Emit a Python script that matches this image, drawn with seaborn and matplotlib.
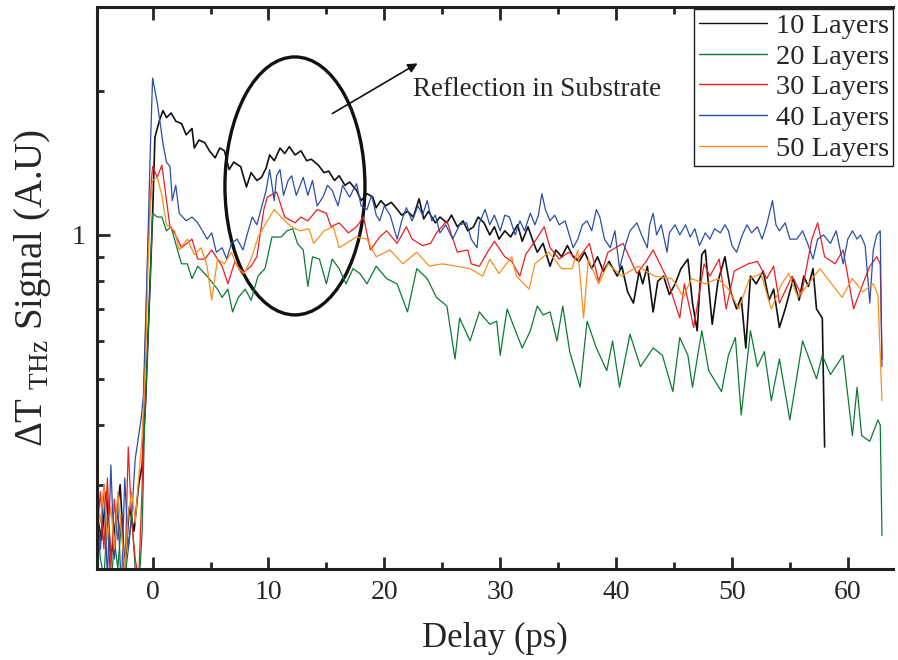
import numpy as np
import pandas as pd
import matplotlib
matplotlib.use("Agg")
import matplotlib.pyplot as plt
import matplotlib.ticker as mticker
from matplotlib.patches import Ellipse
import seaborn as sns

# valores (delay em ps, sinal em A.U.)
t_10 = [-4.8, -4.4, -4.0, -3.6, -3.2, -2.8, -2.4, -2.0, -1.6, -1.2, -0.9, -0.6, -0.3, 0.0, 0.2, 0.6, 0.9, 1.2, 1.6, 2.0,
        2.5, 2.9, 3.4, 3.6, 4.0, 4.5, 4.9, 5.4, 5.8, 6.2, 6.6, 7.0, 7.6, 8.1, 8.5, 9.0, 9.4, 9.8, 10.1, 10.5,
        11.0, 11.4, 11.8, 12.3, 12.8, 13.3, 13.7, 14.3, 14.8, 15.2, 15.7, 16.1, 16.6, 17.0, 17.6, 18.0, 18.5, 19.0, 19.3, 19.7,
        20.1, 20.6, 21.0, 21.5, 22.0, 22.5, 23.0, 23.4, 23.8, 24.4, 24.8, 25.4, 25.8, 26.3, 26.8, 27.2, 27.7, 28.1, 28.6, 29.1,
        29.5, 29.9, 30.4, 30.9, 31.5, 31.9, 32.4, 32.9, 33.2, 33.7, 34.3, 34.8, 35.3, 35.8, 36.3, 36.8, 37.3, 37.9, 38.4, 38.9,
        39.4, 40.1, 40.5, 41.0, 41.5, 42.0, 42.3, 42.7, 43.2, 43.6, 44.1, 44.6, 45.1, 45.6, 46.2, 46.6, 47.0, 47.4, 47.7, 48.3,
        48.8, 49.4, 49.9, 50.4, 50.8, 51.2, 51.6, 52.1, 52.7, 53.2, 53.6, 54.1, 54.6, 55.3, 55.8, 56.2, 56.6, 57.0, 57.3, 57.8,
        58.0]
v_10 = [0.26, 0.23, 0.29, 0.21, 0.25, 0.30, 0.20, 0.27, 0.24, 0.30, 0.33, 0.45, 0.70, 1.10, 1.60, 1.74, 1.82, 1.76, 1.80, 1.73,
        1.71, 1.62, 1.67, 1.52, 1.58, 1.56, 1.50, 1.45, 1.52, 1.50, 1.37, 1.42, 1.39, 1.26, 1.35, 1.30, 1.32, 1.38, 1.47, 1.43,
        1.52, 1.48, 1.53, 1.47, 1.50, 1.43, 1.44, 1.40, 1.35, 1.36, 1.30, 1.33, 1.27, 1.29, 1.24, 1.18, 1.22, 1.20, 1.14, 1.18,
        1.15, 1.17, 1.14, 1.10, 1.12, 1.09, 1.19, 1.08, 1.12, 1.06, 1.09, 1.06, 1.10, 1.04, 1.07, 1.02, 1.04, 1.09, 1.06, 1.00,
        1.04, 0.98, 1.02, 0.99, 1.05, 0.97, 1.04, 0.96, 0.92, 0.96, 0.86, 0.93, 0.90, 0.95, 0.90, 0.88, 0.92, 0.85, 0.90, 0.84,
        0.88, 0.82, 0.86, 0.76, 0.72, 0.84, 0.79, 0.86, 0.69, 0.80, 0.82, 0.75, 0.79, 0.85, 0.89, 0.72, 0.63, 0.91, 0.93, 0.65,
        0.80, 0.90, 0.76, 0.70, 0.74, 0.58, 0.82, 0.79, 0.84, 0.73, 0.77, 0.64, 0.70, 0.81, 0.73, 0.82, 0.78, 0.85, 0.70, 0.67,
        0.36]

t_20 = [-4.8, -4.5, -4.2, -3.9, -3.6, -3.3, -3.0, -2.7, -2.4, -2.1, -1.8, -1.5, -1.2, -0.9, -0.7, -0.3, 0.0, 0.4, 0.8, 1.2,
        1.6, 2.2, 2.5, 3.0, 3.4, 3.9, 4.7, 5.6, 6.0, 6.5, 6.9, 7.4, 8.0, 8.5, 9.1, 9.7, 10.3, 11.1, 11.6, 12.1,
        12.5, 13.0, 13.4, 13.8, 14.4, 15.0, 15.5, 16.1, 16.7, 17.3, 17.9, 18.5, 19.3, 20.2, 21.1, 22.0, 22.8, 23.7, 24.5, 25.4,
        26.1, 26.5, 27.4, 28.2, 29.1, 29.7, 30.0, 30.6, 31.1, 31.9, 32.6, 33.2, 33.7, 34.3, 34.9, 35.4, 36.0, 36.9, 37.5, 38.3,
        39.2, 39.7, 40.3, 41.2, 42.1, 43.2, 44.0, 44.9, 45.5, 46.2, 46.6, 47.4, 48.0, 49.1, 49.7, 50.3, 50.8, 51.6, 52.2, 52.8,
        53.4, 54.1, 55.0, 56.1, 57.3, 57.8, 58.5, 59.6, 60.4, 60.8, 61.2, 61.9, 62.6, 62.8, 62.95]
v_20 = [0.25, 0.21, 0.19, 0.26, 0.18, 0.23, 0.20, 0.25, 0.19, 0.22, 0.26, 0.20, 0.18, 0.24, 0.40, 0.70, 1.11, 1.09, 1.09, 1.02,
        1.04, 0.92, 0.87, 0.87, 0.81, 0.86, 0.82, 0.77, 0.74, 0.77, 0.69, 0.74, 0.77, 0.73, 0.82, 0.85, 0.99, 0.99, 1.02, 1.03,
        0.96, 0.93, 0.78, 0.90, 0.89, 0.79, 0.89, 0.85, 0.79, 0.85, 0.83, 0.79, 0.86, 0.81, 0.79, 0.69, 0.85, 0.81, 0.74, 0.71,
        0.55, 0.67, 0.60, 0.69, 0.65, 0.66, 0.56, 0.70, 0.65, 0.58, 0.63, 0.71, 0.68, 0.69, 0.60, 0.71, 0.57, 0.48, 0.66, 0.58,
        0.52, 0.60, 0.48, 0.62, 0.53, 0.58, 0.56, 0.47, 0.61, 0.56, 0.48, 0.63, 0.52, 0.47, 0.56, 0.61, 0.42, 0.63, 0.53, 0.57,
        0.45, 0.55, 0.41, 0.60, 0.50, 0.56, 0.51, 0.56, 0.38, 0.48, 0.38, 0.37, 0.41, 0.40, 0.235]

t_30 = [-4.8, -4.5, -4.2, -3.9, -3.6, -3.3, -3.0, -2.7, -2.4, -2.1, -1.8, -1.5, -1.2, -0.9, -0.7, -0.4, -0.1, 0.0, 0.4, 0.8,
        1.2, 1.5, 1.9, 2.5, 3.4, 3.9, 4.5, 5.1, 6.0, 6.5, 7.1, 7.7, 8.5, 9.0, 9.6, 9.9, 10.7, 11.4, 12.3, 12.8,
        13.4, 14.2, 15.0, 15.4, 16.1, 16.9, 17.6, 18.2, 18.8, 19.6, 20.2, 21.1, 21.9, 22.4, 23.3, 24.0, 24.5, 25.4, 26.3, 27.2,
        27.5, 28.2, 28.9, 29.5, 30.4, 31.0, 31.7, 32.2, 33.0, 33.8, 34.3, 35.1, 35.9, 36.7, 37.7, 38.5, 39.3, 40.6, 41.8, 42.6,
        43.2, 44.4, 45.5, 45.9, 46.7, 47.6, 48.1, 48.9, 49.5, 50.2, 51.4, 52.2, 53.0, 53.6, 54.1, 55.2, 56.0, 56.9, 57.4, 58.0,
        58.9, 59.6, 60.5, 61.3, 61.9, 62.5, 62.8, 62.95]
v_30 = [0.24, 0.29, 0.22, 0.31, 0.20, 0.28, 0.23, 0.26, 0.19, 0.36, 0.25, 0.21, 0.19, 0.30, 0.52, 0.95, 1.30, 1.39, 1.32, 1.40,
        1.18, 1.04, 1.01, 0.94, 0.98, 0.89, 0.89, 0.93, 0.86, 0.79, 0.88, 0.83, 0.86, 0.90, 1.13, 1.20, 1.23, 1.09, 1.06, 1.09,
        1.07, 1.13, 1.11, 1.04, 1.06, 1.01, 1.04, 1.09, 0.93, 0.99, 1.02, 0.96, 1.04, 0.98, 0.95, 0.96, 1.01, 1.07, 0.92, 0.93,
        0.87, 0.86, 0.92, 0.97, 0.90, 0.88, 0.82, 0.91, 0.97, 1.04, 0.94, 0.89, 0.92, 0.89, 0.96, 0.80, 0.92, 0.96, 0.83, 0.88,
        0.93, 0.81, 0.67, 0.79, 0.64, 0.87, 0.82, 0.89, 0.70, 0.84, 0.87, 0.88, 0.81, 0.86, 0.72, 0.82, 0.75, 0.98, 1.06, 0.90,
        0.87, 0.93, 0.70, 0.79, 0.86, 0.90, 0.87, 0.55]

t_40 = [-4.8, -4.5, -4.2, -3.9, -3.6, -3.3, -3.0, -2.7, -2.4, -2.1, -1.8, -1.5, -1.2, -1.0, -0.8, -0.5, -0.2, 0.0, 0.4, 0.6,
        0.9, 1.2, 1.5, 1.7, 2.0, 2.3, 2.9, 3.4, 3.9, 4.3, 4.7, 5.1, 5.5, 6.0, 6.4, 6.8, 7.3, 7.8, 8.2, 8.6,
        9.0, 9.4, 9.8, 10.1, 10.5, 10.7, 11.0, 11.3, 11.7, 12.0, 12.4, 13.0, 13.4, 13.8, 14.2, 14.7, 15.1, 15.5, 16.0, 16.4,
        17.0, 17.6, 18.0, 18.5, 18.9, 19.3, 19.6, 20.0, 20.5, 21.1, 21.5, 21.9, 22.4, 22.9, 23.3, 23.7, 24.1, 24.4, 24.8, 25.3,
        25.9, 26.5, 27.1, 27.5, 28.0, 28.2, 28.7, 29.1, 29.5, 30.0, 30.4, 30.8, 31.3, 31.7, 32.1, 32.6, 33.0, 33.3, 33.6, 33.9,
        34.3, 34.7, 35.1, 35.6, 36.3, 36.7, 37.1, 37.5, 37.9, 38.3, 38.6, 39.0, 39.5, 39.9, 40.3, 40.8, 41.2, 41.8, 42.2, 42.7,
        42.9, 43.2, 43.5, 43.9, 44.4, 44.6, 45.1, 45.5, 46.0, 46.4, 46.8, 47.2, 47.7, 48.1, 48.5, 49.0, 49.4, 49.7, 50.0, 50.4,
        50.9, 51.3, 51.7, 52.2, 52.6, 53.0, 53.5, 53.8, 54.1, 54.6, 55.0, 55.6, 56.1, 56.6, 57.0, 57.4, 57.9, 58.5, 59.0, 59.6,
        60.0, 60.4, 60.8, 61.1, 61.5, 61.9, 62.2, 62.5, 62.8, 62.95]
v_40 = [0.27, 0.22, 0.30, 0.19, 0.33, 0.21, 0.27, 0.18, 0.31, 0.22, 0.26, 0.34, 0.38, 0.41, 0.46, 0.80, 1.50, 2.13, 1.89, 1.75,
        1.55, 1.42, 1.39, 1.18, 1.27, 1.11, 1.07, 1.09, 1.06, 1.02, 0.98, 1.01, 0.92, 0.94, 0.89, 0.96, 0.98, 0.93, 1.01, 1.09,
        1.05, 1.14, 1.24, 1.37, 1.18, 1.33, 1.37, 1.21, 1.30, 1.33, 1.21, 1.32, 1.21, 1.30, 1.15, 1.20, 1.27, 1.24, 1.15, 1.27,
        1.20, 1.28, 1.15, 1.13, 1.21, 1.10, 1.07, 1.15, 1.10, 0.98, 1.07, 1.14, 1.07, 1.15, 1.10, 1.18, 1.07, 1.10, 1.01, 1.05,
        0.98, 1.05, 1.06, 0.98, 0.94, 1.06, 1.13, 1.05, 1.10, 1.02, 1.10, 1.09, 1.00, 1.07, 1.02, 1.11, 1.05, 1.10, 1.22, 1.13,
        1.07, 1.10, 1.05, 1.07, 0.94, 0.98, 1.05, 1.07, 1.02, 1.13, 1.09, 0.98, 0.94, 1.02, 0.85, 0.95, 1.02, 1.06, 1.00, 0.94,
        1.05, 1.11, 1.00, 1.05, 0.92, 1.01, 1.05, 1.00, 1.05, 0.99, 1.03, 0.95, 1.01, 0.98, 1.03, 1.01, 1.05, 1.02, 0.95, 0.92,
        1.00, 1.05, 1.01, 1.04, 0.98, 1.05, 1.18, 1.05, 1.02, 1.06, 0.98, 0.98, 1.02, 0.95, 0.89, 0.98, 1.00, 0.96, 1.02, 0.87,
        0.98, 1.02, 0.98, 1.00, 0.95, 0.72, 0.93, 1.00, 1.02, 0.53]

t_50 = [-4.8, -4.5, -4.2, -3.9, -3.6, -3.3, -3.0, -2.7, -2.4, -2.1, -1.8, -1.5, -1.2, -0.9, -0.6, -0.4, -0.2, 0.0, 0.4, 0.8,
        1.2, 1.9, 2.3, 3.0, 3.6, 4.2, 4.7, 5.1, 5.6, 6.2, 6.8, 7.3, 7.9, 8.5, 9.1, 9.8, 10.5, 11.1, 11.6, 12.0,
        12.7, 13.5, 13.9, 14.8, 15.6, 16.1, 17.6, 18.5, 19.3, 20.5, 21.6, 22.8, 23.9, 25.0, 26.2, 27.4, 28.5, 29.1, 29.9, 31.0,
        31.4, 32.5, 33.0, 34.2, 35.3, 36.2, 36.7, 37.2, 37.6, 38.5, 39.3, 40.5, 41.9, 43.3, 44.8, 45.3, 45.8, 46.5, 47.7, 48.8,
        49.7, 50.6, 51.5, 52.5, 53.4, 54.3, 54.9, 55.7, 56.6, 57.6, 58.6, 59.5, 60.4, 61.3, 62.2, 62.6, 62.95]
v_50 = [0.28, 0.25, 0.30, 0.23, 0.27, 0.22, 0.29, 0.24, 0.20, 0.26, 0.29, 0.25, 0.31, 0.38, 0.55, 0.85, 1.15, 1.30, 1.32, 1.21,
        1.05, 1.02, 0.93, 0.98, 0.91, 0.94, 0.86, 0.73, 0.89, 0.87, 0.92, 0.86, 0.83, 0.89, 0.99, 1.06, 1.13, 1.09, 1.06, 1.04,
        1.02, 1.03, 0.96, 1.02, 1.04, 0.94, 0.99, 0.98, 0.90, 0.93, 0.87, 0.92, 0.86, 0.87, 0.86, 0.85, 0.82, 0.89, 0.83, 0.90,
        0.82, 0.77, 0.87, 0.92, 0.85, 0.85, 0.93, 0.67, 0.89, 0.79, 0.87, 0.82, 0.86, 0.82, 0.81, 0.78, 0.74, 0.81, 0.79, 0.81,
        0.77, 0.70, 0.81, 0.83, 0.70, 0.79, 0.83, 0.74, 0.79, 0.85, 0.79, 0.74, 0.81, 0.76, 0.79, 0.75, 0.45]

camadas = ["10 Layers", "20 Layers", "30 Layers", "40 Layers", "50 Layers"]
cores = ["#111111", "#0b7a34", "#ee1d23", "#2a4ea5", "#f7901e"]

sns.set_style("ticks")
plt.rcParams["font.family"] = ["Liberation Serif", "DejaVu Serif"]
plt.rcParams["mathtext.fontset"] = "custom"
plt.rcParams["mathtext.rm"] = "Liberation Serif"

frames = []
for nome, tt, vv in zip(camadas, [t_10, t_20, t_30, t_40, t_50], [v_10, v_20, v_30, v_40, v_50]):
    frames.append(pd.DataFrame({"delay": tt, "sinal": vv, "camada": nome}))
df = pd.concat(frames, ignore_index=True)

fig = plt.figure(figsize=(8.98, 6.6), dpi=100)
ax = fig.add_axes([0.108, 0.138, 0.8864, 0.8515])

for nome, cor in zip(camadas, cores):
    sub = df[df["camada"] == nome]
    sns.lineplot(data=sub, x="delay", y="sinal", ax=ax, color=cor, sort=False, estimator=None,
                 lw=1.2 if nome == "10 Layers" else 0.9, label=nome)

ax.set_yscale("log")
ax.set_xlim(-4.8, 63.9)
ax.set_ylim(0.2, 3.0)

ax.xaxis.set_major_locator(mticker.MultipleLocator(10))
ax.xaxis.set_minor_locator(mticker.MultipleLocator(5))
ax.yaxis.set_major_locator(mticker.FixedLocator([1]))
ax.yaxis.set_minor_locator(mticker.FixedLocator([0.2, 0.3, 0.4, 0.5, 0.6, 0.7, 0.8, 0.9, 2, 3]))
ax.yaxis.set_major_formatter(mticker.FixedFormatter(["1"]))
ax.yaxis.set_minor_formatter(mticker.NullFormatter())

ax.tick_params(which="both", direction="in", top=True, right=False, width=2, labelsize=20)
ax.tick_params(which="major", length=9, pad=8)
ax.tick_params(which="minor", length=5)
for s in ax.spines.values():
    s.set_linewidth(2.2)
    s.set_color("#231f20")
ax.spines["right"].set_visible(False)

ax.set_xlabel("Delay (ps)", fontsize=25, labelpad=12)
ax.set_ylabel(r"$\Delta$T$_{\rm\ THz}$ Signal (A.U)", fontsize=28, labelpad=14)

# elipse e seta da reflexao
ax.add_patch(Ellipse((0.2487, 0.6815), 0.1759, 0.459, transform=ax.transAxes,
                     fill=False, lw=2.4, color="#111111"))
ax.annotate("", xy=(0.4058, 0.9021), xytext=(0.2927, 0.8078), xycoords="axes fraction",
            arrowprops=dict(arrowstyle="-|>", color="#111111", lw=1.2, mutation_scale=14))
ax.text(0.397, 0.8523, "Reflection in Substrate", transform=ax.transAxes, fontsize=19.5, va="center", ha="left")

leg = ax.legend(loc="upper right", bbox_to_anchor=(1.0, 0.997), borderaxespad=0, fontsize=20.5,
                frameon=True, fancybox=False, framealpha=1, edgecolor="#231f20",
                labelspacing=0.17, handlelength=2.4, handletextpad=0.3, borderpad=0.15)
leg.get_frame().set_linewidth(1.0)
for h in leg.get_lines():
    h.set_linewidth(1.0)

plt.savefig("out.png", dpi=100)
